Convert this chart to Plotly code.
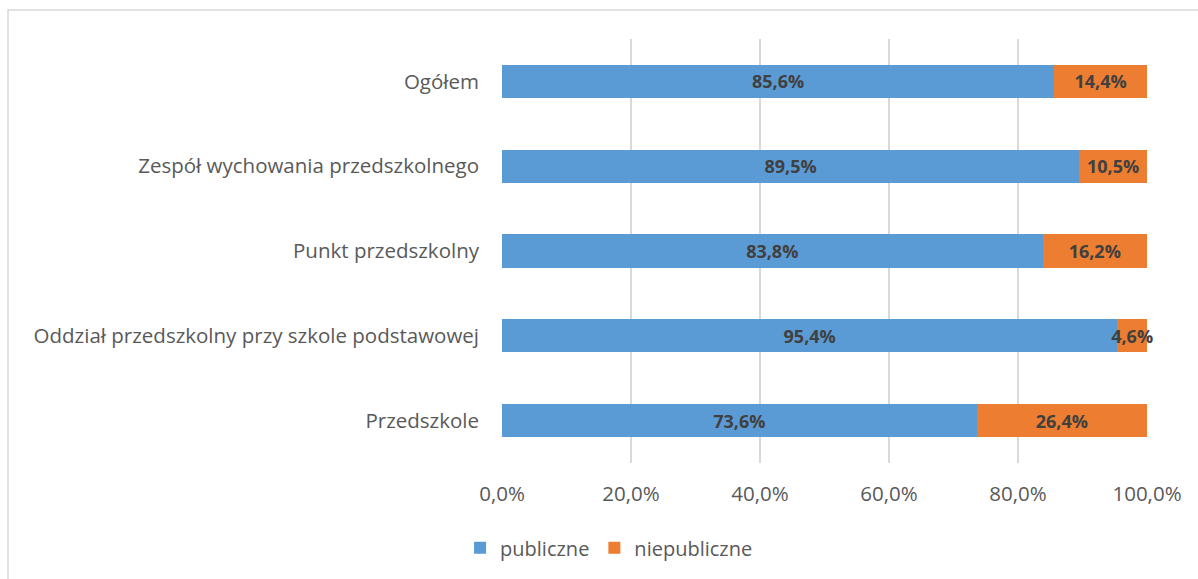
import plotly.graph_objects as go

categories = ["Przedszkole", "Oddział przedszkolny przy szkole podstawowej",
              "Punkt przedszkolny", "Zespół wychowania przedszkolnego", "Ogółem"]
publiczne = [73.6, 95.4, 83.8, 89.5, 85.6]
niepubliczne = [26.4, 4.6, 16.2, 10.5, 14.4]
tick_vals = [0, 20, 40, 60, 80, 100]
tick_text = ["0,0%", "20,0%", "40,0%", "60,0%", "80,0%", "100,0%"]

FONT = "Open Sans"

def lab(v):
    return f"{v:.1f}%".replace(".", ",")

fig = go.Figure()
for name, vals, color in [("publiczne", publiczne, "#5B9BD5"),
                          ("niepubliczne", niepubliczne, "#ED7D31")]:
    fig.add_trace(go.Bar(
        y=categories, x=vals, orientation="h", name=name,
        marker=dict(color=color, line=dict(width=0)),
        text=[lab(v) for v in vals], textposition="inside", textangle=0,
        insidetextanchor="middle", constraintext="none", cliponaxis=False,
        textfont=dict(family=FONT, size=18, color="#404040", weight="bold"),
    ))

fig.update_layout(
    barmode="stack", bargap=0.61,
    width=1198, height=579,
    margin=dict(l=502, r=51, t=39, b=116),
    paper_bgcolor="white", plot_bgcolor="white",
    font=dict(family=FONT, size=20, color="#595959"),
    showlegend=True,
    legend=dict(orientation="h", x=0.166, y=-0.2, xanchor="center", yanchor="middle",
                font=dict(family=FONT, size=20, color="#595959"), itemwidth=30,
                traceorder="normal"),
    xaxis=dict(range=[0, 100], tickvals=tick_vals, ticktext=tick_text,
               showgrid=True, gridcolor="#D9D9D9", gridwidth=1.5,
               zeroline=False, showline=False, ticks="", ticklabelstandoff=16,
               tickfont=dict(family=FONT, size=20.5, color="#595959"), fixedrange=True),
    yaxis=dict(showgrid=False, zeroline=False, showline=False, ticks="",
               ticklabelstandoff=22,
               tickfont=dict(family=FONT, size=20.5, color="#595959"), fixedrange=True),
    shapes=[dict(type="rect", xref="paper", yref="paper",
                 x0=(8 - 502) / 645, x1=2, y0=-0.6, y1=(463 - 10) / 424,
                 line=dict(color="#D9D9D9", width=1.5), fillcolor="rgba(0,0,0,0)",
                 layer="below")],
)

fig.write_html("out.html", config={"displayModeBar": False})
with open("out.html", encoding="utf-8") as f:
    html = f.read()
html = html.replace("<head>", "<head><style>html,body{margin:0;padding:0;}</style>", 1)
with open("out.html", "w", encoding="utf-8") as f:
    f.write(html)
